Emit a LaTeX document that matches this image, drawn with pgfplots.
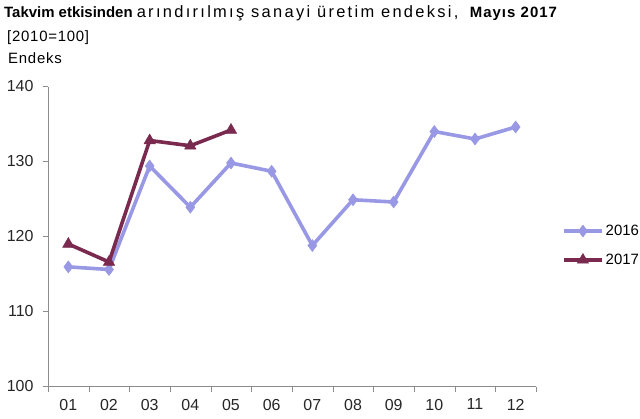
\documentclass[border=0pt]{standalone}
\usepackage{pgfplots}
\pgfplotsset{compat=1.18}
\usepackage{fontspec}
\setmainfont{Liberation Sans}
\definecolor{c16}{RGB}{152,152,228}
\definecolor{c17}{RGB}{122,42,78}
\definecolor{axgray}{RGB}{140,140,140}
\begin{document}
\begin{tikzpicture}
\path[use as bounding box] (0bp,0bp) rectangle (640bp,-419bp);
\node[anchor=base west, inner sep=0pt, font=\fontsize{15}{17}\selectfont] at (4bp,-17bp) {\textbf{Takvim etkisinden} {\fontsize{16.5}{18}\selectfont\addfontfeature{LetterSpace=14}arındırılmış sanayi üretim endeksi,}\hspace{9bp}{\addfontfeature{LetterSpace=7}\textbf{Mayıs 2017}}};
\node[anchor=base west, inner sep=0pt, font=\fontsize{15}{17}\selectfont\addfontfeature{LetterSpace=5}] at (7bp,-41bp) {[2010=100]};
\node[anchor=base west, inner sep=0pt, font=\fontsize{15}{17}\selectfont\addfontfeature{LetterSpace=5}] at (8bp,-63bp) {Endeks};
\begin{axis}[
  at={(48bp,-386.5bp)}, anchor=south west,
  scale only axis, width=488bp, height=300bp,
  xmin=-0.5, xmax=11.5, ymin=100, ymax=140,
  ytick={100,110,...,140},
  xtick={-0.5,0.5,...,11.5},
  xticklabels={01,02,03,04,05,06,07,08,09,10,11,12},
  x tick label as interval,
  axis lines*=left,
  axis line style={draw=axgray, -},
  tick style={draw=axgray},
  tick align=outside, major tick length=5bp,
  /pgf/number format/assume math mode=true,
  tick label style={font=\fontsize{16}{18}\selectfont, text=black!85},
  xticklabel style={yshift=-4bp},
  yticklabel style={xshift=-6bp},
  legend style={draw=none, fill=none, at={(1.047,0.552)}, anchor=north west,
    font=\fontsize{15}{17}\selectfont, row sep=13bp},
  legend cell align=left,
  legend image code/.code={\draw[mark repeat=2,mark phase=2,#1] plot coordinates {(0bp,0bp) (19bp,0bp) (38bp,0bp)};},
]
\addplot[c16, line width=3.6bp, mark=diamond*, mark size=6bp, mark options={solid, line width=0.5bp}] coordinates {
(0,115.95) (1,115.6) (2,129.4) (3,123.9) (4,129.8) (5,128.7) (6,118.8) (7,124.9) (8,124.6) (9,134.0) (10,133.0) (11,134.6)};
\addlegendentry{2016}
\addplot[c17, line width=3.6bp, mark=triangle*, mark size=6.5bp, mark options={solid, line width=0.5bp}] coordinates {
(0,119.0) (1,116.6) (2,132.8) (3,132.1) (4,134.2)};
\addlegendentry{2017}
\end{axis}
\end{tikzpicture}
\end{document}
